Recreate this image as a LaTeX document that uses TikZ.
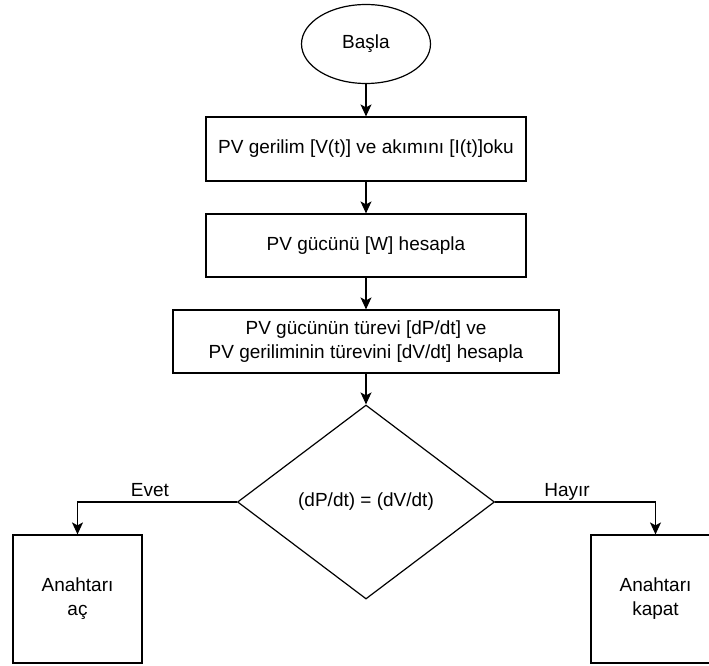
\documentclass[tikz,border=0pt]{standalone}
\usepackage{fontspec}
\setmainfont{Liberation Sans}
\usetikzlibrary{shapes.geometric,arrows.meta}
\begin{document}
\begin{tikzpicture}[x=1pt,y=-1pt,
  every node/.style={font=\fontsize{19}{24}\selectfont, text=black},
  box/.style={draw, line width=1.2pt, rectangle, inner sep=0pt, align=center},
  startnode/.style={draw, ellipse, line width=1.2pt, inner sep=0pt, minimum width=129pt, minimum height=79pt},
  decision/.style={draw, diamond, line width=1.2pt, inner sep=0pt, minimum width=257pt, minimum height=194pt},
  conn/.style={line width=1.2pt, -{Stealth[length=12pt,width=11pt,inset=3pt]}},
  lbl/.style={anchor=base, inner sep=0pt}]
\useasboundingbox (0,0) rectangle (709,666);
\clip (0,0) rectangle (709,666);
\node[startnode] (start) at (366,44) {Başla};
\node[box, minimum width=320pt, minimum height=64pt] (read) at (366,149) {PV gerilim [V(t)] ve akımını [I(t)]oku};
\node[box, minimum width=320pt, minimum height=63pt] (power) at (366,245.5) {PV gücünü [W] hesapla};
\node[box, minimum width=386pt, minimum height=63pt] (deriv) at (366,341.5) {PV gücünün türevi [dP/dt] ve\\PV geriliminin türevini [dV/dt] hesapla};
\node[decision] (dec) at (366,502) {(dP/dt) = (dV/dt)};
\node[box, minimum width=129pt, minimum height=128pt] (open) at (77.5,599) {Anahtarı\\aç};
\node[box, minimum width=129pt, minimum height=128pt] (close) at (655.5,599) {Anahtarı\\kapat};
\draw[conn] (start.south) -- (read.north);
\draw[conn] (read.south) -- (power.north);
\draw[conn] (power.south) -- (deriv.north);
\draw[conn] (deriv.south) -- (dec.north);
\draw[conn] (dec.west) -| (open.north);
\draw[conn] (dec.east) -| (close.north);
\node[lbl] (yes) at (150,496) {Evet};
\node[lbl] (no) at (567,496) {Hayır};
\end{tikzpicture}
\end{document}
